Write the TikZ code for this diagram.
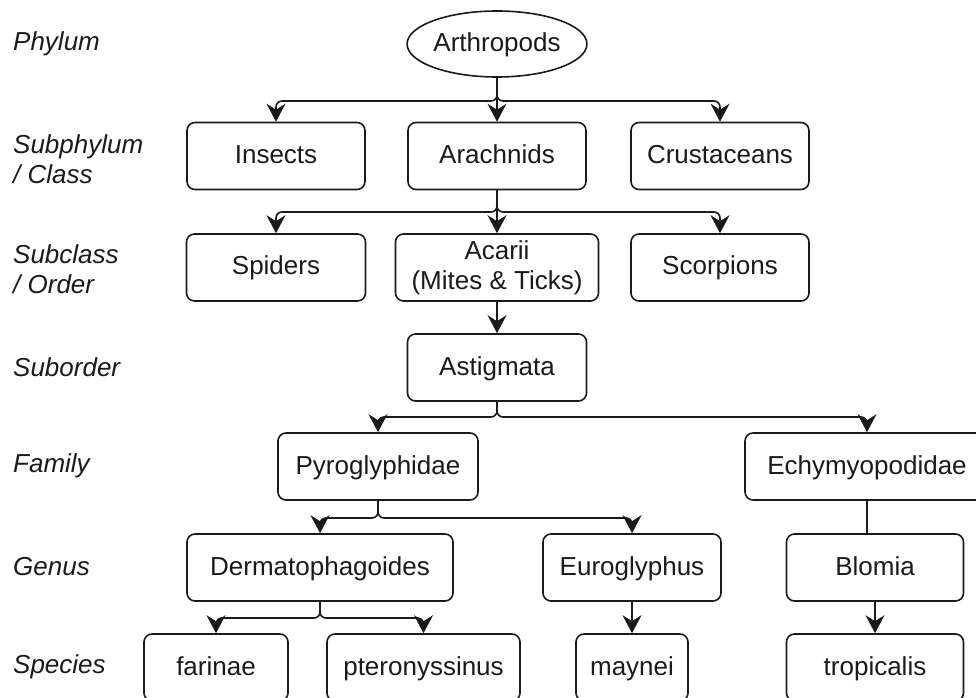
\documentclass[tikz,border=0pt]{standalone}
\usepackage{fontspec}
\setmainfont{Liberation Sans}
\usepackage{tikz}
\usetikzlibrary{arrows.meta,shapes.geometric}
\definecolor{inkdark}{RGB}{26,26,26}
\tikzset{
  taxon/.style = {draw=inkdark, text=inkdark, rounded corners=8pt, align=center, line width=1.6pt, minimum height=67pt, inner sep=0pt, text height=20pt, text depth=5pt},
  root/.style  = {draw=inkdark, text=inkdark, ellipse, line width=1.6pt, minimum width=178pt, minimum height=66pt, inner sep=0pt, text height=20pt, text depth=5pt},
  rank/.style  = {anchor=west, align=left, inner sep=0pt, text=inkdark, font=\fontsize{26}{30}\selectfont\itshape},
  flow/.style  = {-{Stealth[length=18pt, width=19pt, inset=6pt]}, line width=1.6pt, draw=inkdark, rounded corners=6pt},
  link/.style  = {line width=1.6pt, draw=inkdark},
}

\begin{document}
\begin{tikzpicture}[x=1pt, y=1pt, font=\fontsize{26}{30}\selectfont]
  \useasboundingbox (0,0) rectangle (976,697);
  % ranks
  \node[rank] (phylum) at (13,653) {Phylum};
  \node[rank] (subphylum) at (13,538) {Subphylum\\/ Class};
  \node[rank] (subclass) at (13,428) {Subclass\\/ Order};
  \node[rank] (suborder) at (13,330) {Suborder};
  \node[rank] (family) at (13,231) {Family};
  \node[rank] (genus) at (13,130) {Genus};
  \node[rank] (species) at (13,30) {Species};
  % taxa
  \node[root] (arthro) at (497,653) {Arthropods};
  \node[taxon, minimum width=178pt] (insects) at (276,541) {Insects};
  \node[taxon, minimum width=178pt] (arachnids) at (497,541) {Arachnids};
  \node[taxon, minimum width=178pt] (crust) at (720,541) {Crustaceans};
  \node[taxon, minimum width=179pt] (spiders) at (276,429.5) {Spiders};
  \node[taxon, minimum width=203pt, text height=50pt] (acarii) at (497,429.5) {Acarii\\(Mites \& Ticks)};
  \node[taxon, minimum width=178pt] (scorp) at (720,429.5) {Scorpions};
  \node[taxon, minimum width=179pt] (astig) at (497,329.5) {Astigmata};
  \node[taxon, minimum width=200pt] (pyro) at (378,230.5) {Pyroglyphidae};
  \node[taxon, minimum width=244pt] (echy) at (867,230.5) {Echymyopodidae};
  \node[taxon, minimum width=266pt] (derm) at (320,129.5) {Dermatophagoides};
  \node[taxon, minimum width=178pt] (euro) at (632,129.5) {Euroglyphus};
  \node[taxon, minimum width=177pt] (blomia) at (875,129.5) {Blomia};
  \node[taxon, minimum width=144pt] (farinae) at (216,29.5) {farinae};
  \node[taxon, minimum width=193pt] (ptero) at (423.5,29.5) {pteronyssinus};
  \node[taxon, minimum width=112pt] (maynei) at (632,29.5) {maynei};
  \node[taxon, minimum width=177pt] (tropic) at (875,29.5) {tropicalis};
  % bus levels
  \coordinate (bus1) at (0,596);
  \coordinate (bus2) at (0,485);
  \coordinate (bus3) at (0,280);
  \coordinate (bus4) at (0,179);
  \coordinate (bus5) at (0,79);
  % connectors
  \draw[flow] (arthro.south) |- (bus1 -| insects.north) -- (insects.north);
  \draw[flow] (arthro.south) -- (arachnids.north);
  \draw[flow] (arthro.south) |- (bus1 -| crust.north) -- (crust.north);
  \draw[flow] (arachnids.south) |- (bus2 -| spiders.north) -- (spiders.north);
  \draw[flow] (arachnids.south) -- (acarii.north);
  \draw[flow] (arachnids.south) |- (bus2 -| scorp.north) -- (scorp.north);
  \draw[flow] (acarii.south) -- (astig.north);
  \draw[flow] (astig.south) |- (bus3 -| pyro.north) -- (pyro.north);
  \draw[flow] (astig.south) |- (bus3 -| echy.north) -- (echy.north);
  \draw[flow] (pyro.south) |- (bus4 -| derm.north) -- (derm.north);
  \draw[flow] (pyro.south) |- (bus4 -| euro.north) -- (euro.north);
  \draw[link] (echy.south) -- (echy.south |- blomia.north);
  \draw[flow] (derm.south) |- (bus5 -| farinae.north) -- (farinae.north);
  \draw[flow] (derm.south) |- (bus5 -| ptero.north) -- (ptero.north);
  \draw[flow] (euro.south) -- (maynei.north);
  \draw[flow] (blomia.south) -- (tropic.north);
\end{tikzpicture}
\end{document}
